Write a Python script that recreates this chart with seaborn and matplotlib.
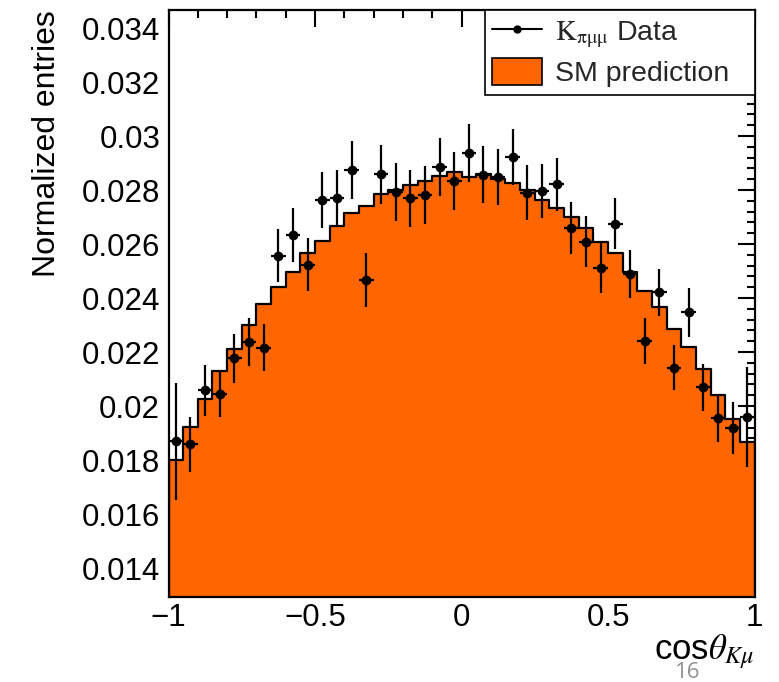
import numpy as np
import pandas as pd
import matplotlib
matplotlib.use("Agg")
import matplotlib.pyplot as plt
import seaborn as sns
from matplotlib.ticker import MultipleLocator, FuncFormatter
from matplotlib.lines import Line2D
from matplotlib.patches import Patch
from matplotlib import font_manager

# ---------------- data ----------------
n_bins = 40
x_range = (-1.0, 1.0)
bin_edges = np.round(np.linspace(x_range[0], x_range[1], n_bins + 1), 3)
bin_centers = np.round((bin_edges[:-1] + bin_edges[1:]) / 2, 3)

sm_prediction = [0.01800, 0.01921, 0.02027, 0.02130, 0.02212, 0.02299, 0.02377, 0.02440, 0.02497, 0.02565,
                 0.02611, 0.02668, 0.02716, 0.02742, 0.02785, 0.02800, 0.02817, 0.02832, 0.02852, 0.02865,
                 0.02847, 0.02858, 0.02841, 0.02827, 0.02800, 0.02763, 0.02735, 0.02701, 0.02658, 0.02609,
                 0.02565, 0.02497, 0.02427, 0.02368, 0.02285, 0.02217, 0.02137, 0.02041, 0.01951, 0.01868]

data_values = [0.01870, 0.01858, 0.02058, 0.02046, 0.02177, 0.02237, 0.02216, 0.02557, 0.02633, 0.02524,
               0.02764, 0.02771, 0.02874, 0.02467, 0.02858, 0.02794, 0.02769, 0.02781, 0.02885, 0.02833,
               0.02936, 0.02857, 0.02849, 0.02922, 0.02790, 0.02796, 0.02821, 0.02660, 0.02609, 0.02512,
               0.02675, 0.02489, 0.02241, 0.02421, 0.02142, 0.02347, 0.02069, 0.01954, 0.01920, 0.01960]

data_errors = [0.00217, 0.00103, 0.00094, 0.00087, 0.00090, 0.00088, 0.00088, 0.00099, 0.00101, 0.00097,
               0.00104, 0.00104, 0.00108, 0.00100, 0.00109, 0.00107, 0.00106, 0.00107, 0.00109, 0.00107,
               0.00107, 0.00105, 0.00104, 0.00104, 0.00101, 0.00101, 0.00099, 0.00097, 0.00094, 0.00093,
               0.00094, 0.00090, 0.00085, 0.00088, 0.00084, 0.00091, 0.00086, 0.00088, 0.00096, 0.00185]

x_ticks = [-1, -0.5, 0, 0.5, 1]
y_ticks = [0.014, 0.016, 0.018, 0.020, 0.022, 0.024, 0.026, 0.028, 0.030, 0.032, 0.034]

legend_labels = [r"$\mathrm{K_{\pi\mu\mu}}$ Data", "SM prediction"]
x_label = r"cos$\theta_{K\mu}$"
y_label = "Normalized entries"
page_number = "16"

# ---------------- style ----------------
sns.set_theme(style="white")
plt.rcParams['font.family'] = ['Liberation Sans', 'DejaVu Sans']
plt.rcParams['mathtext.fontset'] = 'stix'

avail = {f.name for f in font_manager.fontManager.ttflist}
narrow = 'Liberation Sans Narrow' if 'Liberation Sans Narrow' in avail else 'Liberation Sans'

orange = '#ff6600'

fig = plt.figure(figsize=(7.79, 6.82), dpi=100)
ax = fig.add_axes([168.5 / 779, 85 / 682, 586 / 779, 587 / 682])

df_hist = pd.DataFrame({"x": bin_centers, "w": sm_prediction})
sns.histplot(data=df_hist, x="x", weights="w", bins=n_bins, binrange=x_range, element="step",
             fill=True, color=orange, alpha=1.0, edgecolor="black", linewidth=1.6,
             ax=ax, zorder=2)

df_data = pd.DataFrame({"x": bin_centers, "y": data_values, "err": data_errors})
ax.errorbar(df_data["x"], df_data["y"], yerr=df_data["err"], xerr=0.025,
            fmt='o', color='black', markersize=6, elinewidth=1.6, capsize=0, zorder=4)

ax.set_xlim(-1, 1)
ax.set_ylim(0.012926, 0.034667)

ax.set_xticks(x_ticks)
ax.set_yticks(y_ticks)
ax.xaxis.set_minor_locator(MultipleLocator(0.1))
ax.yaxis.set_minor_locator(MultipleLocator(0.0004))
ax.xaxis.set_major_formatter(FuncFormatter(lambda v, p: f"{v:g}".replace('-', '\u2212')))
ax.yaxis.set_major_formatter(FuncFormatter(lambda v, p: f"{v:g}"))

ax.tick_params(axis='both', which='both', direction='in', top=True, right=True,
               color='black', width=1.5, labelsize=22.5, labelcolor='black')
ax.tick_params(axis='both', which='major', length=12)
ax.tick_params(axis='both', which='minor', length=6)
ax.tick_params(axis='x', which='major', pad=4)
ax.tick_params(axis='y', which='major', pad=6)

for s in ax.spines.values():
    s.set_color('black')
    s.set_linewidth(1.6)
    s.set_visible(True)

ax.set_xlabel(x_label, loc='right', fontsize=25, color='black', labelpad=0)
ax.set_ylabel(y_label, loc='top', fontsize=23, color='black', family=narrow, labelpad=14)
ax.grid(False)

handles = [Line2D([0], [0], color='black', marker='o', markersize=5, linewidth=1.5),
           Patch(facecolor=orange, edgecolor='black', linewidth=1.2)]
leg = ax.legend(handles, legend_labels, loc='upper left', mode='expand',
                bbox_to_anchor=(485 / 779, 1 - 95 / 682, 270 / 779, 85 / 682),
                bbox_transform=fig.transFigure,
                borderaxespad=0, fontsize=20.5, frameon=True, fancybox=False,
                edgecolor='black', framealpha=1, handlelength=1.75, handleheight=1.05,
                handletextpad=0.45, borderpad=0.25, labelspacing=0.3)
leg.get_frame().set_linewidth(1.2)
leg.set_zorder(5)

fig.text(688 / 779, 1 - 673 / 682, page_number, color='#909090', fontsize=16,
         ha='center', va='center', family='Open Sans')

fig.savefig("out.png", dpi=100)
